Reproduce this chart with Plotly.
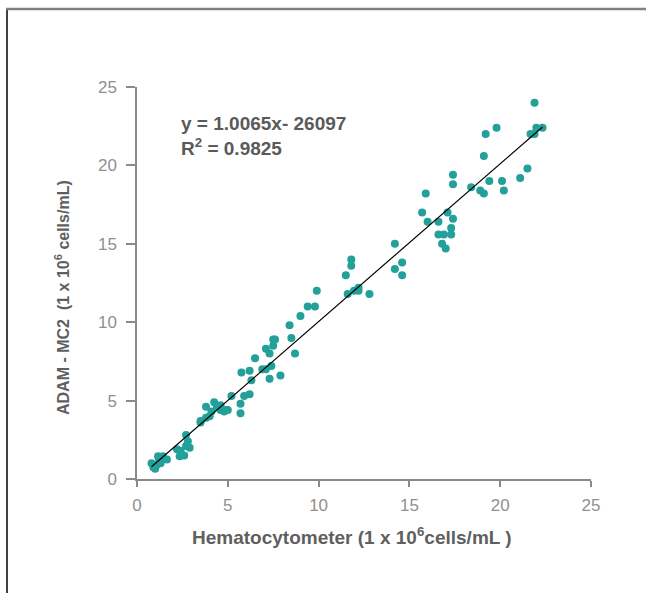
import numpy as np
import plotly.graph_objects as go

# Hematocytometer (x) vs ADAM-MC2 (y), in 1e6 cells/mL
hemo = [21.89, 21.99, 22.33, 21.67, 21.89, 19.2, 19.8, 19.1, 21.5, 21.1, 20.1, 20.2,
        19.4, 18.9, 19.1, 18.4, 17.4, 17.4, 15.9, 15.7, 16.0, 16.6, 17.1, 17.4, 17.3,
        16.6, 16.9, 17.3, 16.8, 17.0, 14.2, 14.6, 14.2, 14.6, 11.8, 11.8, 11.5, 11.6,
        11.95, 12.2, 12.2, 12.8, 9.9, 9.4, 9.8, 9.0, 8.4, 8.5, 8.7, 7.5, 7.6, 7.5, 7.1,
        7.3, 6.5, 6.9, 7.1, 7.4, 7.3, 7.9, 5.75, 6.2, 6.3, 6.2, 5.9, 5.2, 5.7, 5.7,
        3.8, 4.25, 4.6, 4.8, 5.0, 4.9, 4.1, 4.0, 3.8, 3.5, 3.5, 4.6, 4.4,
        2.7, 2.8, 2.9, 2.7, 2.2, 2.35, 2.6, 2.4,
        1.16, 1.43, 1.65, 1.25, 0.8, 1.0, 1.07, 1.3, 0.9, 1.2]
adam = [24.0, 22.4, 22.4, 22.0, 22.0, 22.0, 22.4, 20.6, 19.8, 19.2, 19.0, 18.4,
        19.0, 18.4, 18.2, 18.6, 19.4, 18.8, 18.2, 17.0, 16.4, 16.4, 17.0, 16.6, 16.0,
        15.6, 15.6, 15.6, 15.0, 14.7, 15.0, 13.8, 13.4, 13.0, 14.0, 13.6, 13.0, 11.8,
        12.0, 12.2, 12.0, 11.8, 12.0, 11.0, 11.0, 10.4, 9.8, 9.0, 8.0, 8.9, 8.9, 8.5, 8.3,
        8.0, 7.7, 7.0, 7.0, 7.2, 6.4, 6.6, 6.8, 6.9, 6.3, 5.4, 5.3, 5.3, 4.8, 4.2,
        4.6, 4.9, 4.7, 4.3, 4.4, 4.4, 4.3, 4.0, 3.9, 3.7, 3.6, 4.4, 4.6,
        2.8, 2.4, 2.0, 2.1, 1.9, 1.45, 1.5, 1.8,
        1.45, 1.45, 1.25, 1.1, 1.0, 0.66, 0.87, 1.0, 0.75, 1.3]

slope = 1.0065
intercept = -0.026097
eq_text = "y = 1.0065x- 26097"
r2_text = "R<sup>2</sup> = 0.9825"
x_title = "Hematocytometer (1 x 10<sup>6</sup>cells/mL )"
y_title = "ADAM - MC2  (1 x 10<sup>6</sup> cells/mL)"

x_ticks = [0, 5, 10, 15, 20, 25]
y_ticks = [0, 5, 10, 15, 20, 25]

line_x = np.array([min(hemo), max(hemo)])
line_y = slope * line_x + intercept

FONT = "Liberation Sans, Arial, sans-serif"

fig = go.Figure()
fig.add_trace(go.Scatter(x=hemo, y=adam, mode="markers",
                         marker=dict(size=8, color="#22a099", line=dict(width=0)),
                         showlegend=False, hoverinfo="x+y"))
fig.add_trace(go.Scatter(x=line_x, y=line_y, mode="lines",
                         line=dict(color="black", width=1.2),
                         showlegend=False, hoverinfo="skip"))

axis_common = dict(
    range=[0, 25], showgrid=False, zeroline=False,
    showline=True, linecolor="#8a8a8a", linewidth=1.5,
    ticks="outside", tickcolor="#8a8a8a", tickwidth=1.5,
    tickfont=dict(family=FONT, size=17, color="#909090"),
)

fig.update_layout(
    width=646, height=595,
    margin=dict(l=137, r=55, t=87, b=116),
    paper_bgcolor="white", plot_bgcolor="white",
    xaxis=dict(**axis_common, tickvals=x_ticks, ticklen=6, ticklabelstandoff=4),
    yaxis=dict(**axis_common, tickvals=y_ticks, ticklen=9, ticklabelstandoff=6),
    annotations=[
        dict(text="<b>" + eq_text + "</b><br><b>" + r2_text + "</b>",
             xref="paper", yref="paper", x=(179 - 137) / 454, y=(479 - 111) / 392,
             xanchor="left", yanchor="top", align="left", showarrow=False,
             font=dict(family=FONT, size=19, color="#5a5a5a")),
        dict(text="<b>" + x_title + "</b>",
             xref="paper", yref="paper", x=(352 - 137) / 454, y=(479 - 536) / 392,
             xanchor="center", yanchor="middle", showarrow=False,
             font=dict(family=FONT, size=19, color="#5f5f5f")),
        dict(text="<b>" + y_title + "</b>", textangle=-90,
             xref="paper", yref="paper", x=(62 - 137) / 454, y=(479 - 298) / 392,
             xanchor="center", yanchor="middle", showarrow=False,
             font=dict(family=FONT, size=16, color="#5f5f5f")),
    ],
    shapes=[
        dict(type="line", xref="paper", yref="paper",
             x0=(7 - 137) / 454, x1=(7 - 137) / 454, y0=(479 - 9) / 392, y1=(479 - 593) / 392,
             line=dict(color="black", width=1.5)),
        dict(type="line", xref="paper", yref="paper",
             x0=(6 - 137) / 454, x1=(646 - 137) / 454, y0=(479 - 9) / 392, y1=(479 - 9) / 392,
             line=dict(color="#808080", width=2.5)),
    ],
)

fig.write_html("out.html", config={"displayModeBar": False},
               post_script="document.body.style.margin='0';")
